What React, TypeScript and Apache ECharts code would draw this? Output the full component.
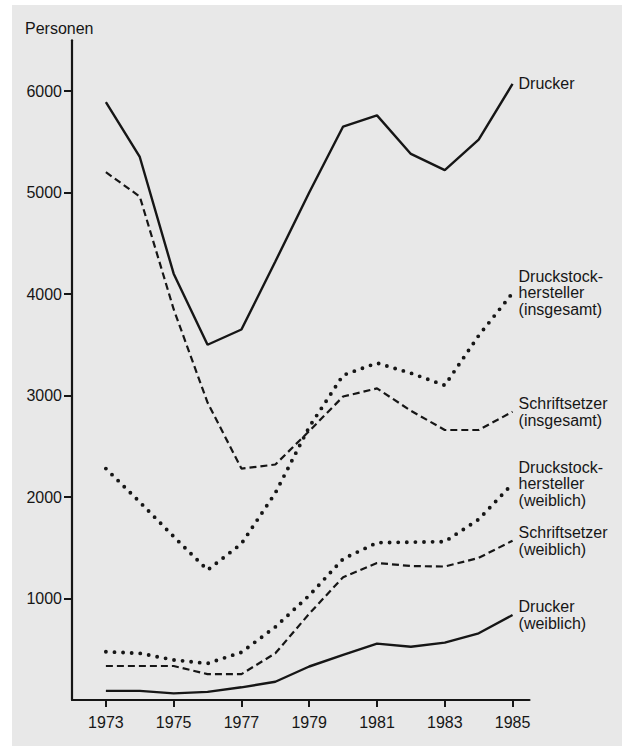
import React, { useEffect, useRef } from "react";
import * as echarts from "echarts";

const years = [1973, 1974, 1975, 1976, 1977, 1978, 1979, 1980, 1981, 1982, 1983, 1984, 1985];
const xTickYears = [1973, 1975, 1977, 1979, 1981, 1983, 1985];
const yTickValues = [1000, 2000, 3000, 4000, 5000, 6000];

const drucker = [5890, 5350, 4200, 3500, 3650, 4320, 5000, 5650, 5760, 5380, 5220, 5520, 6070];
const druckstockGesamt = [2280, 1950, 1610, 1280, 1540, 2040, 2690, 3200, 3320, 3220, 3100, 3590, 4010];
const schriftsetzerGesamt = [5200, 4960, 3850, 2930, 2280, 2320, 2650, 2990, 3070, 2850, 2660, 2660, 2840];
const druckstockWeiblich = [475, 460, 395, 360, 470, 720, 1030, 1390, 1550, 1555, 1560, 1780, 2130];
const schriftsetzerWeiblich = [335, 335, 335, 255, 255, 460, 850, 1210, 1350, 1320, 1315, 1400, 1570];
const druckerWeiblich = [90, 90, 65, 80, 125, 180, 330, 445, 555, 525, 565, 657, 837];

const labelDrucker = "Drucker";
const labelDruckstockGesamt = "Druckstock-\nhersteller\n(insgesamt)";
const labelSchriftsetzerGesamt = "Schriftsetzer\n(insgesamt)";
const labelDruckstockWeiblich = "Druckstock-\nhersteller\n(weiblich)";
const labelSchriftsetzerWeiblich = "Schriftsetzer\n(weiblich)";
const labelDruckerWeiblich = "Drucker\n(weiblich)";

const FONT = '"Liberation Sans", Arial, Helvetica, sans-serif';
const INK = "#161616";
const FS = 16;

const pairs = (vals: number[]) => years.map((y, i) => [y, vals[i]]);

const solid = { type: "solid", width: 2.4, color: INK };
const dashed = { type: [7, 4], width: 2.2, color: INK };
const dotted = { type: [0, 8.6], width: 3.9, cap: "round", color: INK };

function makeSeries(name: string, vals: number[], lineStyle: any, label: string) {
  return {
    name,
    type: "line",
    data: pairs(vals),
    symbol: "none",
    lineStyle,
    clip: false,
    endLabel: {
      show: true,
      formatter: label,
      distance: 6,
      fontSize: FS,
      lineHeight: 16.7,
      color: INK,
      fontFamily: FONT,
      align: "left",
    },
  };
}

export default function App() {
  const ref = useRef<HTMLDivElement>(null);
  useEffect(() => {
    if (!ref.current) return;
    const chart = echarts.init(ref.current, null, { renderer: "svg" });
    chart.setOption({
      animation: false,
      backgroundColor: "#ffffff",
      textStyle: { fontFamily: FONT },
      graphic: [
        {
          type: "rect",
          z: -10,
          silent: true,
          shape: { x: 12, y: 5, width: 610, height: 741 },
          style: { fill: "#e8e8e8" },
        },
        {
          type: "text",
          x: 25,
          y: 28,
          silent: true,
          style: {
            text: "Personen",
            fontSize: FS,
            fontFamily: FONT,
            fill: INK,
            textVerticalAlign: "middle",
            textAlign: "left",
          },
        },
      ],
      grid: { left: 72, right: 96.5, top: 40.25, bottom: 46, outerBoundsMode: "none" },
      xAxis: {
        type: "value",
        min: 1972,
        max: 1985.5,
        splitLine: { show: false },
        axisLine: { show: true, lineStyle: { color: INK, width: 2.2 } },
        axisTick: { show: true, length: 7, lineStyle: { color: INK, width: 2 }, customValues: xTickYears },
        axisLabel: {
          customValues: xTickYears,
          formatter: (v: number) => String(v),
          fontSize: FS,
          color: INK,
          fontFamily: FONT,
          margin: 14,
        },
      },
      yAxis: {
        type: "value",
        min: 0,
        max: 6500,
        splitLine: { show: false },
        axisLine: { show: true, lineStyle: { color: INK, width: 2.2 } },
        axisTick: { show: true, length: 8, lineStyle: { color: INK, width: 2 }, customValues: yTickValues },
        axisLabel: {
          customValues: yTickValues,
          formatter: (v: number) => String(v),
          fontSize: FS,
          color: INK,
          fontFamily: FONT,
          margin: 10,
        },
      },
      series: [
        makeSeries("Drucker", drucker, solid, labelDrucker),
        makeSeries("Druckstockhersteller (insgesamt)", druckstockGesamt, dotted, labelDruckstockGesamt),
        makeSeries("Schriftsetzer (insgesamt)", schriftsetzerGesamt, dashed, labelSchriftsetzerGesamt),
        makeSeries("Druckstockhersteller (weiblich)", druckstockWeiblich, dotted, labelDruckstockWeiblich),
        makeSeries("Schriftsetzer (weiblich)", schriftsetzerWeiblich, dashed, labelSchriftsetzerWeiblich),
        makeSeries("Drucker (weiblich)", druckerWeiblich, solid, labelDruckerWeiblich),
      ],
    });
    return () => chart.dispose();
  }, []);
  return (
    <div
      ref={ref}
      style={{ position: "absolute", left: 0, top: 0, width: 626, height: 746 }}
    />
  );
}
